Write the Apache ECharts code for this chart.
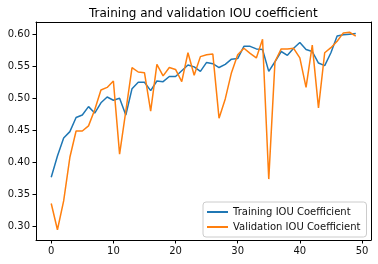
<!DOCTYPE html>
<html>
<head>
<meta charset="utf-8">
<script src="https://cdn.jsdelivr.net/npm/echarts@6/dist/echarts.min.js"></script>
<style>html,body{margin:0;padding:0;background:#fff;}#c{width:378px;height:264px;}</style>
</head>
<body>
<div id="c"></div>
<script>
const epochs = Array.from({length: 50}, (_, i) => i);
const trainIOU = [0.377,0.410,0.438,0.448,0.470,0.474,0.487,0.477,0.493,0.502,
  0.497,0.500,0.474,0.515,0.525,0.525,0.512,0.527,0.526,0.534,
  0.534,0.543,0.552,0.549,0.542,0.556,0.554,0.548,0.553,0.561,
  0.562,0.581,0.581,0.577,0.576,0.542,0.557,0.573,0.567,0.578,
  0.587,0.576,0.573,0.555,0.551,0.571,0.597,0.599,0.600,0.601];
const valIOU = [0.336,0.295,0.340,0.408,0.449,0.449,0.457,0.482,0.513,0.517,
  0.527,0.413,0.480,0.548,0.541,0.540,0.480,0.553,0.535,0.548,
  0.545,0.526,0.571,0.536,0.565,0.568,0.569,0.469,0.499,0.540,
  0.568,0.578,0.570,0.563,0.592,0.374,0.557,0.577,0.577,0.578,
  0.563,0.517,0.583,0.485,0.571,0.579,0.589,0.602,0.603,0.597];
const xTicks = [0,10,20,30,40,50];
const yTicks = [0.30,0.35,0.40,0.45,0.50,0.55,0.60];
const titleText = 'Training and validation IOU coefficient';
const seriesNames = ['Training IOU Coefficient','Validation IOU Coefficient'];

const font = 'DejaVu Sans';
const X_MIN = -2.45, X_MAX = 51.45, Y_MIN = 0.279, Y_MAX = 0.619;
const frameAxis = {
  type: 'value', splitLine: {show: false},
  axisTick: {show: false}, axisLabel: {show: false}
};
const chart = echarts.init(document.getElementById('c'), null, {renderer:'canvas'});
chart.setOption({
  animation: false,
  backgroundColor: '#fff',
  title: {
    text: titleText, left: 84, top: 3,
    textStyle: {fontFamily: font, fontSize: 12, fontWeight: 'normal', color: '#000'}
  },
  grid: {left: 36, right: 7, top: 22, bottom: 24},
  legend: {
    orient: 'vertical', left: 203, top: 202,
    padding: [4, 6, 4, 4], itemGap: 3, itemWidth: 21, itemHeight: 2, icon: 'rect',
    backgroundColor: '#fff', borderColor: '#ccc', borderWidth: 1, borderRadius: 3,
    textStyle: {fontFamily: font, fontSize: 10, color: '#111', lineHeight: 12},
    data: seriesNames
  },
  xAxis: [{
    type: 'value', min: X_MIN, max: X_MAX, position: 'bottom',
    splitLine: {show: false},
    axisLine: {show: true, onZero: false, lineStyle: {color: '#000', width: 1}},
    axisTick: {show: true, length: 3.5, lineStyle: {color: '#000'}, customValues: xTicks},
    axisLabel: {fontFamily: font, fontSize: 10, color: '#111', margin: 6, customValues: xTicks, formatter: v => String(v)}
  }, Object.assign({}, frameAxis, {min: X_MIN, max: X_MAX, position: 'top', axisLine: {show: true, onZero: false, lineStyle: {color: '#000', width: 1}}})],
  yAxis: [{
    type: 'value', min: Y_MIN, max: Y_MAX, position: 'left',
    splitLine: {show: false},
    axisLine: {show: true, onZero: false, lineStyle: {color: '#000', width: 1}},
    axisTick: {show: true, length: 3.5, lineStyle: {color: '#000'}, customValues: yTicks},
    axisLabel: {fontFamily: font, fontSize: 10, color: '#111', margin: 6, customValues: yTicks, formatter: v => v.toFixed(2)}
  }, Object.assign({}, frameAxis, {min: Y_MIN, max: Y_MAX, position: 'right', axisLine: {show: true, onZero: false, lineStyle: {color: '#000', width: 1}}})],
  series: [
    {name: seriesNames[0], type: 'line', data: epochs.map((e, i) => [e, trainIOU[i]]),
      showSymbol: false, symbol: 'none', lineStyle: {color: '#1f77b4', width: 1.5}, itemStyle: {color: '#1f77b4'}, z: 2},
    {name: seriesNames[1], type: 'line', data: epochs.map((e, i) => [e, valIOU[i]]),
      showSymbol: false, symbol: 'none', lineStyle: {color: '#ff7f0e', width: 1.5}, itemStyle: {color: '#ff7f0e'}, z: 3}
  ]
});
</script>
</body>
</html>
